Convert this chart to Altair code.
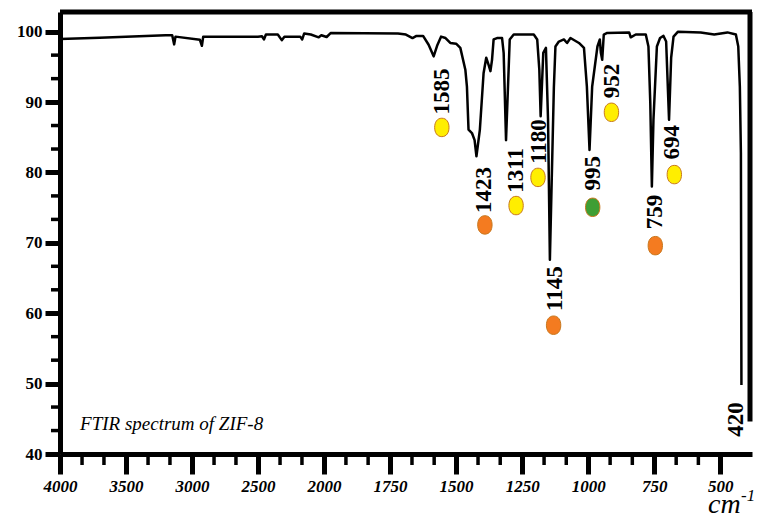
import altair as alt
import pandas as pd

# FTIR spectrum of ZIF-8: wavenumber (cm-1) and transmittance (%)
wavenumber = [4000, 3700, 3400, 3200, 3150, 3135, 3125, 2940, 2925, 2915,
              2500, 2470, 2455, 2440, 2350, 2320, 2300, 2180, 2165, 2150,
              2100, 2040, 2020, 1990, 1975, 1720, 1690, 1665, 1650, 1625,
              1604, 1585, 1572, 1557, 1540, 1522, 1500, 1484, 1465, 1459,
              1453, 1440, 1430, 1423, 1410, 1396, 1386, 1377, 1370, 1364,
              1358, 1345, 1326, 1320, 1311, 1297, 1282, 1206, 1193, 1185,
              1180, 1170, 1160, 1152, 1145, 1130, 1124, 1111, 1092, 1080,
              1067, 1035, 1016, 1005, 995, 985, 965, 956, 952, 947,
              941, 930, 845, 839, 820, 782, 772, 765, 759, 753,
              740, 728, 715, 705, 694, 686, 677, 660, 574, 523,
              473, 441, 432, 426, 422, 420]
transmittance = [98.95, 99.15, 99.35, 99.5, 99.5, 98.2, 99.3, 98.85, 98.0, 99.3,
                 99.3, 99.35, 98.9, 99.6, 99.6, 98.8, 99.3, 99.3, 98.9, 99.75,
                 99.6, 99.2, 99.5, 99.25, 99.8, 99.75, 99.6, 99.1, 99.4, 99.4,
                 98.15, 96.5, 98.0, 99.3, 99.1, 98.4, 98.3, 97.7, 94.6, 92.2,
                 86.1, 85.6, 84.6, 82.3, 86.1, 94.1, 96.3, 95.3, 94.4, 96.0,
                 98.9, 99.1, 99.1, 97.0, 84.6, 98.9, 99.6, 99.6, 98.9, 94.6,
                 88.0, 97.0, 97.7, 87.5, 67.6, 92.0, 97.9, 98.6, 98.9, 98.4,
                 99.1, 98.4, 97.7, 92.2, 83.2, 92.2, 97.9, 98.9, 97.0, 96.0,
                 99.6, 99.8, 99.9, 99.2, 99.6, 99.6, 97.9, 89.9, 78.0, 87.5,
                 97.9, 99.1, 99.4, 98.6, 87.5, 96.3, 99.3, 100.0, 99.9, 99.6,
                 99.9, 99.6, 97.9, 92.2, 82.8, 49.8]

# Band assignments: label text and where it is written
peak_labels = ["1585", "1423", "1311", "1180", "1145", "995", "952", "759", "694", "420"]
label_wn = [1554, 1395, 1275, 1186, 1127, 980, 909, 746, 682, 439]
label_t = [91.5, 77.5, 80.3, 84.4, 63.5, 79.9, 93.0, 74.4, 84.3, 44.9]

# Coloured markers below the bands
marker_wn = [1554, 1391, 1273, 1190, 1131, 983, 912, 746, 674]
marker_t = [86.4, 72.55, 75.3, 79.3, 58.3, 75.05, 88.55, 69.6, 79.7]
marker_kind = ["yellow", "orange", "yellow", "yellow", "orange", "green", "yellow", "orange", "yellow"]

X_TICKS = [4000, 3500, 3000, 2500, 2000, 1750, 1500, 1250, 1000, 750, 500]
X_MINOR = [3833, 3667, 3333, 3167, 2833, 2667, 2333, 2167,
           1917, 1833, 1667, 1583, 1417, 1333, 1167, 1083, 917, 833, 667, 583]
Y_TICKS = [40, 50, 60, 70, 80, 90, 100]
Y_MINOR = [43.33, 46.67, 53.33, 56.67, 63.33, 66.67, 73.33, 76.67,
           83.33, 86.67, 93.33, 96.67]

W, H = 692, 442
SERIF = "Liberation Serif"

spec = pd.DataFrame({"wn": wavenumber, "T": transmittance})
labels = pd.DataFrame({"wn": label_wn, "T": label_t, "text": peak_labels})
markers = pd.DataFrame({"wn": marker_wn, "T": marker_t, "kind": marker_kind})
xminor = pd.DataFrame({"wn": X_MINOR})
yminor = pd.DataFrame({"T": Y_MINOR})
single = pd.DataFrame({"one": [1]})

# Split abscissa: 4000-2000 at half the scale of 2000-380
x_scale = alt.Scale(domain=[4000, 2000, 380], range=[0, 264, W], nice=False, zero=False)
y_scale = alt.Scale(domain=[40, 102.8], nice=False, zero=False)

x_axis = alt.Axis(values=X_TICKS, format="d", title=None, grid=False,
                  domainWidth=5, domainColor="black", tickWidth=5, tickSize=20,
                  tickColor="black", labelFont=SERIF, labelFontSize=17,
                  labelFontWeight="bold", labelFontStyle="italic",
                  labelColor="black", labelPadding=4, labelFlush=False)
y_axis = alt.Axis(values=Y_TICKS, format="d", title=None, grid=False,
                  domainWidth=5, domainColor="black", tickWidth=5, tickSize=15,
                  tickColor="black", labelFont=SERIF, labelFontSize=17,
                  labelFontWeight="bold", labelColor="black", labelPadding=3)


def X(field="wn"):
    return alt.X(field, type="quantitative", scale=x_scale, axis=x_axis)


def Y(field="T"):
    return alt.Y(field, type="quantitative", scale=y_scale, axis=y_axis)


line = alt.Chart(spec).mark_line(color="black", strokeWidth=2.5, strokeJoin="round").encode(
    x=X(), y=Y(), order="order:Q"
).transform_window(order="row_number()")

minor_x_ticks = alt.Chart(xminor).mark_rule(color="black", strokeWidth=3.5).encode(
    x=X(), y=alt.value(H), y2=alt.value(H + 11)
)
minor_y_ticks = alt.Chart(yminor).mark_rule(color="black", strokeWidth=3.5).encode(
    y=Y(), x=alt.value(-9), x2=alt.value(0)
)

top_border = alt.Chart(single).mark_rule(color="black", strokeWidth=5).encode(
    x=alt.value(0), x2=alt.value(W), y=alt.value(0)
)
right_border = alt.Chart(single).mark_rule(color="black", strokeWidth=5).encode(
    x=alt.value(W - 2),
    y=alt.YDatum(102.8, type="quantitative", scale=y_scale, axis=y_axis),
    y2=alt.Y2Datum(44.6),
)

ellipse = "M0,-1 C0.52,-1 0.78,-0.55 0.78,0 C0.78,0.55 0.52,1 0,1 C-0.52,1 -0.78,0.55 -0.78,0 C-0.78,-0.55 -0.52,-1 0,-1 Z"
dots = alt.Chart(markers).mark_point(
    shape=ellipse, size=340, filled=True, opacity=1, stroke="#C8781E", strokeWidth=1
).encode(
    x=X(), y=Y(),
    fill=alt.Fill("kind:N", legend=None,
                  scale=alt.Scale(domain=["yellow", "orange", "green"],
                                  range=["#FFEE00", "#F47B20", "#3E9E34"])),
)

peak_text = alt.Chart(labels).mark_text(
    angle=270, align="center", baseline="middle", font=SERIF,
    fontSize=23, fontWeight="bold", color="black"
).encode(x=X(), y=Y(), text="text:N")

title_text = alt.Chart(single).mark_text(
    text="FTIR spectrum of ZIF-8", align="left", baseline="alphabetic",
    font=SERIF, fontSize=19, fontStyle="italic", color="black"
).encode(
    x=alt.XDatum(3848, type="quantitative", scale=x_scale, axis=x_axis),
    y=alt.YDatum(43.4, type="quantitative", scale=y_scale, axis=y_axis),
)

# Unit of the abscissa, written under its right end
unit_cm = alt.Chart(single).mark_text(
    text="cm", align="left", baseline="alphabetic", font=SERIF,
    fontSize=28, fontStyle="italic", color="black"
).encode(x=alt.value(648), y=alt.value(501))
unit_exp = alt.Chart(single).mark_text(
    text="-1", align="left", baseline="alphabetic", font=SERIF,
    fontSize=17, fontStyle="italic", color="black"
).encode(x=alt.value(681), y=alt.value(489))

chart = alt.layer(
    line, minor_x_ticks, minor_y_ticks, top_border, right_border,
    dots, peak_text, title_text, unit_cm, unit_exp
).properties(
    width=W, height=H,
    autosize=alt.AutoSizeParams(type="none"),
    padding={"left": 60, "top": 12, "right": 6, "bottom": 64},
    background="white",
).configure_view(stroke=None)

chart.save("out.html", embed_options={"renderer": "svg", "actions": False})
